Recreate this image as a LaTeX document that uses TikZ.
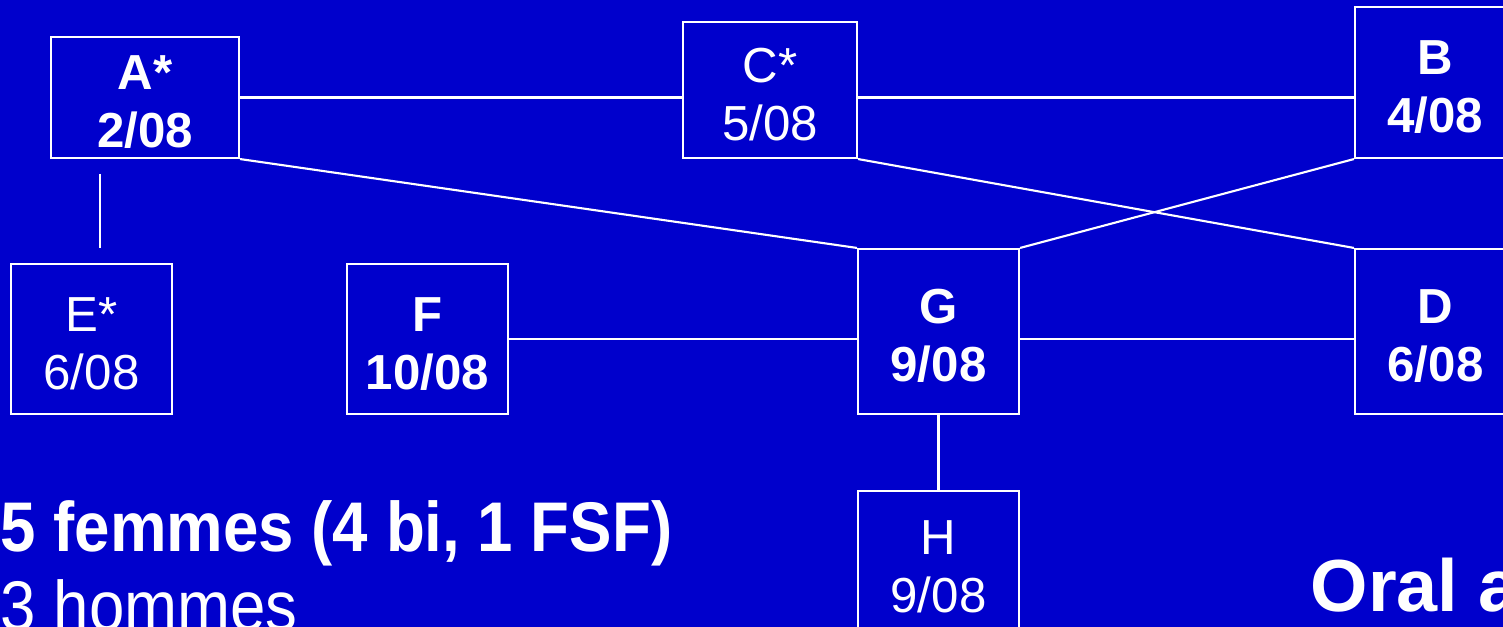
\documentclass[tikz,border=0pt]{standalone}
\usepackage{fontspec}
\setmainfont{Liberation Sans}
\definecolor{slideblue}{RGB}{0,0,204}
% first-line strut: lowers the two-line label a little inside its box
\newcommand{\toprow}{\rule{0pt}{12.4pt}}
\tikzset{
  person/.style={draw=white, line width=0.6pt, fill=slideblue, text=white,
    inner sep=0pt, align=center, font=\fontsize{14}{16.6}\selectfont},
  tie/.style={draw=white, line width=0.6pt},
  caption/.style={text=white, inner sep=0pt, anchor=base west}
}
\begin{document}
\begin{tikzpicture}
\clip (0,0) rectangle (15.03,-6.27);
\fill[slideblue] (0,0) rectangle (15.03,-6.27);

% people, with the month of diagnosis
\node[person, minimum width=1.88cm, minimum height=1.21cm] (A) at (1.45,-0.975) {\toprow\bfseries A*\\\bfseries 2/08};
\node[person, minimum width=1.74cm, minimum height=1.36cm] (C) at (7.70,-0.90) {\toprow C*\\5/08};
\node[person, minimum width=1.60cm, minimum height=1.51cm] (B) at (14.35,-0.825) {\toprow\bfseries B\\\bfseries 4/08};
\node[person, minimum width=1.61cm, minimum height=1.50cm] (E) at (0.915,-3.39) {\toprow E*\\6/08};
\node[person, minimum width=1.61cm, minimum height=1.50cm] (F) at (4.275,-3.39) {\toprow\bfseries F\\\bfseries 10/08};
\node[person, minimum width=1.61cm, minimum height=1.65cm] (G) at (9.385,-3.315) {\toprow\bfseries G\\\bfseries 9/08};
\node[person, minimum width=1.61cm, minimum height=1.65cm] (D) at (14.355,-3.315) {\toprow\bfseries D\\\bfseries 6/08};
\node[person, minimum width=1.61cm, minimum height=1.42cm] (H) at (9.385,-5.62) {\toprow H\\9/08};

% contacts
\coordinate (ae1) at (1.00,-1.74);
\coordinate (ae2) at (1.00,-2.48);
\draw[tie] (A.east) -- (A.east -| C.west);
\draw[tie] (A.east -| C.east) -- (A.east -| B.west);
\draw[tie] (A.south east) -- (G.north west);
\draw[tie] (C.south east) -- (D.north west);
\draw[tie] (B.south west) -- (G.north east);
\draw[tie] (F.east) -- (F.east -| G.west);
\draw[tie] (F.east -| G.east) -- (F.east -| D.west);
\draw[tie] (G.south) -- (H.north);
\draw[tie] (ae1) -- (ae2);

% summary text
\node[caption, font=\fontsize{20}{22}\selectfont\bfseries] (women) at (0,-5.52) {\scalebox{0.905}[1]{5 femmes (4 bi, 1 FSF)}};
\node[caption, font=\fontsize{20}{22}\selectfont] (men) at (0,-6.31) {\scalebox{0.905}[1]{3 hommes}};
\node[caption, font=\fontsize{21}{24}\selectfont\bfseries] (oral) at (13.10,-6.12) {Oral a};
\end{tikzpicture}
\end{document}
